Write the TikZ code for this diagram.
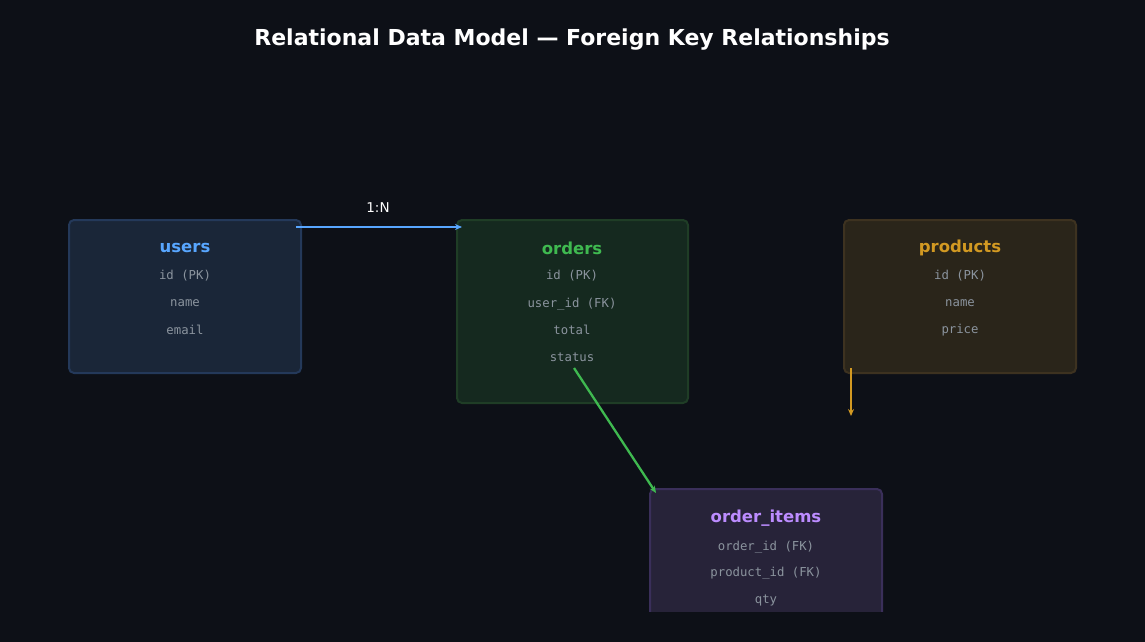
\documentclass[tikz,border=0pt]{standalone}
\usepackage{fontspec}
\setmainfont{DejaVu Sans}
\setmonofont{DejaVu Sans Mono}
\usetikzlibrary{arrows.meta}
\definecolor{bg}{HTML}{0D1017}
\definecolor{ubg}{HTML}{1A2638}\definecolor{ubd}{HTML}{24395A}\definecolor{ublue}{HTML}{58A6FF}
\definecolor{obg}{HTML}{15291F}\definecolor{obd}{HTML}{1F3D26}\definecolor{ogreen}{HTML}{3FB950}
\definecolor{pbg}{HTML}{2A251A}\definecolor{pbd}{HTML}{3D3220}\definecolor{porange}{HTML}{D29922}
\definecolor{ibg}{HTML}{272339}\definecolor{ibd}{HTML}{3A2F5A}\definecolor{ipurple}{HTML}{BC8CFF}
\definecolor{fgray}{HTML}{8B949E}
\tikzset{
 tbox/.style={draw=#1,line width=2pt,rounded corners=5pt},
 head/.style={font=\bfseries\fontsize{16.5}{19}\selectfont,text=#1},
 fld/.style={font=\ttfamily\fontsize{12.3}{14}\selectfont,text=fgray},
 conn/.style={line width=2.3pt,draw=#1,-{Stealth[length=7pt,width=6pt]}}
}
\begin{document}
\begin{tikzpicture}[x=1pt,y=-1pt]
\fill[bg] (0,0) rectangle (1145,642);
\useasboundingbox (0,0) rectangle (1145,642);
\node[font=\bfseries\fontsize{22}{26}\selectfont,text=white] (title) at (572,40) {Relational Data Model — Foreign Key Relationships};
% users
\filldraw[tbox=ubd,fill=ubg] (69,220) rectangle (301,373);
\node[head=ublue] (uh) at (185,248) {users};
\node[fld] (u1) at (185,276) {id (PK)};
\node[fld] (u2) at (185,303) {name};
\node[fld] (u3) at (185,330) {email};
% orders
\filldraw[tbox=obd,fill=obg] (457,220) rectangle (688,403);
\node[head=ogreen] (oh) at (572,248) {orders};
\node[fld] (o1) at (572,276) {id (PK)};
\node[fld] (o2) at (572,304) {user\_id (FK)};
\node[fld] (o3) at (572,330) {total};
\node[fld] (o4) at (572,357) {status};
% products
\filldraw[tbox=pbd,fill=pbg] (844,220) rectangle (1076,373);
\node[head=porange] (ph) at (960,248) {products};
\node[fld] (p1) at (960,276) {id (PK)};
\node[fld] (p2) at (960,303) {name};
\node[fld] (p3) at (960,330) {price};
% order_items (clipped at bottom)
\begin{scope}
\clip (0,0) rectangle (1145,611);
\filldraw[tbox=ibd,fill=ibg] (650,489) rectangle (882,640);
\end{scope}
\node[head=ipurple] (ih) at (766,518) {order\_items};
\node[fld] (i1) at (766,547) {order\_id (FK)};
\node[fld] (i2) at (766,573) {product\_id (FK)};
\node[fld] (i3) at (766,600) {qty};
% connectors
\coordinate (a1) at (296,227); \coordinate (a2) at (462,227);
\coordinate (b1) at (574,368); \coordinate (b2) at (656,493);
\coordinate (c1) at (851,368); \coordinate (c2) at (851,416);
\draw[conn=ublue] (a1) -- (a2);
\node[font=\fontsize{13.5}{16}\selectfont,text=white] (lab) at (378,208) {1:N};
\draw[conn=ogreen] (b1) -- (b2);
\draw[conn=porange] (c1) -- (c2);
\end{tikzpicture}
\end{document}
